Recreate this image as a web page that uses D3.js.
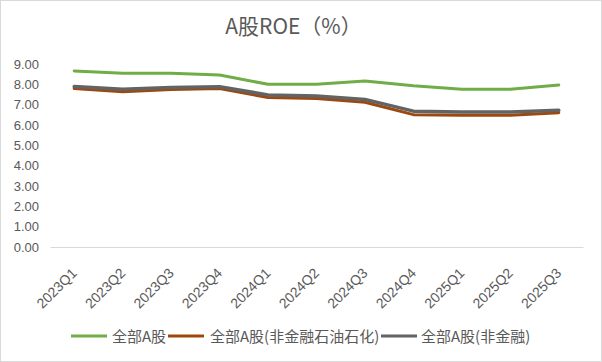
<!DOCTYPE html>
<html><head><meta charset="utf-8">
<script src="https://cdn.jsdelivr.net/npm/d3@7"></script>
<style>body{margin:0;background:#fff}svg{display:block}</style>
</head><body><svg id="c" width="602" height="362"></svg>
<script>
const categories = ["2023Q1","2023Q2","2023Q3","2023Q4","2024Q1","2024Q2","2024Q3","2024Q4","2025Q1","2025Q2","2025Q3"];
const seriesNames = ["全部A股","全部A股(非金融石油石化)","全部A股(非金融)"];
const allA = [8.66,8.54,8.54,8.46,8.00,8.00,8.16,7.93,7.76,7.76,7.97];
const nonFinNonOil = [7.79,7.64,7.74,7.79,7.35,7.30,7.12,6.51,6.48,6.48,6.60];
const nonFin = [7.89,7.76,7.85,7.88,7.48,7.43,7.26,6.68,6.64,6.64,6.72];
const yTicks = [0,1,2,3,4,5,6,7,8,9];
const colors = ["#70AD47","#9E480E","#636363"];
const widths = [3,3,3.5];
const series = [allA, nonFinNonOil, nonFin];

const svg = d3.select("#c");
const cjk = "'Noto Sans CJK SC','Microsoft YaHei',sans-serif";
const num = "'Liberation Sans','DejaVu Sans',sans-serif";
svg.append("rect").attr("x",0.5).attr("y",0.5).attr("width",601).attr("height",361)
  .attr("fill","#fff").attr("stroke","#d9d9d9");

svg.append("text").attr("x",293.5).attr("y",34).attr("text-anchor","middle")
  .attr("font-family",cjk).attr("font-size",21).attr("fill","#595959").text("A股ROE（%）");

const x = d3.scaleBand().domain(categories).range([50,583]);
const y = d3.scaleLinear().domain([0,9]).range([247,64]);

const ya = svg.append("g").attr("transform","translate(50,0)")
  .call(d3.axisLeft(y).tickValues(yTicks).tickFormat(d3.format(".2f")).tickSize(0).tickPadding(11));
ya.select(".domain").remove();
ya.selectAll("text").attr("font-family",num).attr("font-size",13).attr("fill","#595959");

const xa = svg.append("g").attr("transform","translate(0,247)")
  .call(d3.axisBottom(x).tickSize(0).tickPadding(0));
xa.select(".domain").attr("stroke","#d9d9d9").attr("stroke-width",1);
xa.selectAll("text").attr("font-family",num).attr("font-size",14).attr("fill","#595959")
  .attr("text-anchor","end").attr("y",0).attr("dy",0).attr("transform","translate(3.5,27) rotate(-45)");

const line = d3.line().x((d,i)=>x(categories[i])+x.bandwidth()/2).y(d=>y(d));
series.forEach((s,k)=>{
  svg.append("path").datum(s).attr("d",line).attr("fill","none")
    .attr("stroke",colors[k]).attr("stroke-width",widths[k]).attr("stroke-linejoin","round").attr("stroke-linecap","round");
});

const legLineX = [71,168,381];
const legTextX = [112,210,421];
seriesNames.forEach((n,k)=>{
  svg.append("line").attr("x1",legLineX[k]).attr("x2",legLineX[k]+36).attr("y1",336).attr("y2",336)
    .attr("stroke",colors[k]).attr("stroke-width",3);
  svg.append("text").attr("x",legTextX[k]).attr("y",341.5).attr("font-family",cjk).attr("font-size",15)
    .attr("fill","#595959").text(n);
});
</script></body></html>
